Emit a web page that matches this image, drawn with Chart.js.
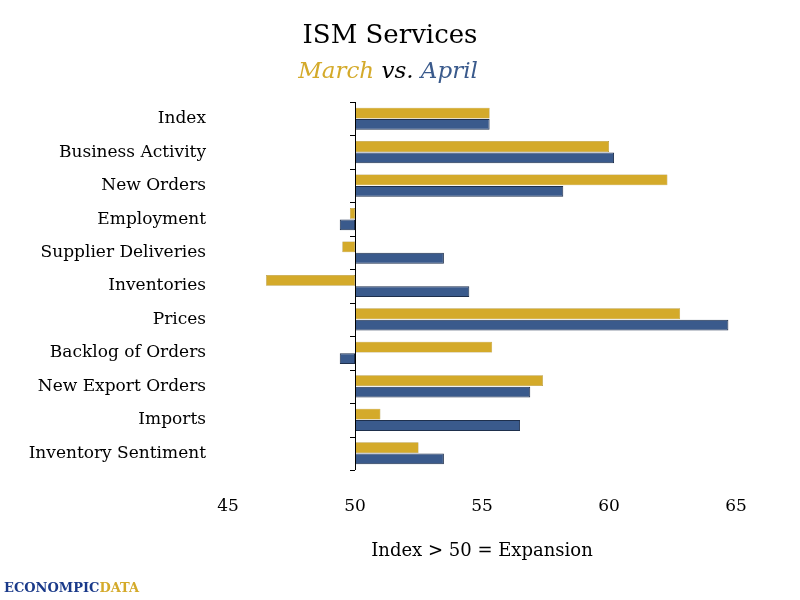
<!DOCTYPE html>
<html>
<head>
<meta charset="utf-8">
<script src="https://cdn.jsdelivr.net/npm/chart.js@4"></script>
<style>
  body { margin: 0; background: #fff; }
  #wrap { width: 800px; height: 600px; position: relative; }
</style>
</head>
<body>
<div id="wrap"><canvas id="chart" width="800" height="600"></canvas></div>
<script>
const categories = ['Index', 'Business Activity', 'New Orders', 'Employment', 'Supplier Deliveries',
    'Inventories', 'Prices', 'Backlog of Orders', 'New Export Orders', 'Imports', 'Inventory Sentiment'];
const march = [55.3, 60.0, 62.3, 49.8, 49.5, 46.5, 62.8, 55.4, 57.4, 51.0, 52.5];
const april = [55.3, 60.2, 58.2, 49.4, 53.5, 54.5, 64.7, 49.4, 56.9, 56.5, 53.5];
const xTicks = [45, 50, 55, 60, 65];
const BASE = 50;

const serif = "'Palatino Linotype', 'DejaVu Serif', 'Liberation Serif', serif";

// Vertical base line at 50 with small ticks, plus title, subtitle and logo
const decor = {
    id: 'decor',
    afterDraw(chart) {
        const ctx = chart.ctx;
        const x = chart.scales.x.getPixelForValue(BASE);
        const area = chart.chartArea;
        ctx.save();
        ctx.strokeStyle = '#000';
        ctx.lineWidth = 1;
        ctx.beginPath();
        ctx.moveTo(x + 0.5, area.top);
        ctx.lineTo(x + 0.5, area.bottom);
        const step = (area.bottom - area.top) / categories.length;
        for (let i = 0; i <= categories.length; i++) {
            const yy = Math.round(area.top + i * step) + 0.5;
            ctx.moveTo(x - 5, yy);
            ctx.lineTo(x, yy);
        }
        ctx.stroke();

        ctx.textAlign = 'center';
        ctx.textBaseline = 'alphabetic';
        ctx.fillStyle = '#000';
        ctx.font = "26px " + serif;
        ctx.fillText('ISM Services', 390, 43);

        ctx.font = "italic 23px " + serif;
        const parts = [['March', '#D4AA2A'], [' vs. ', '#000'], ['April', '#3A5A8C']];
        const total = parts.reduce((s, p) => s + ctx.measureText(p[0]).width, 0);
        let px = 388 - total / 2;
        ctx.textAlign = 'left';
        parts.forEach(p => {
            ctx.fillStyle = p[1];
            ctx.fillText(p[0], px, 78);
            px += ctx.measureText(p[0]).width;
        });

        ctx.font = "bold 13px " + serif;
        ctx.fillStyle = '#1a3a8a';
        ctx.fillText('ECONOMPIC', 4, 592);
        ctx.fillStyle = '#D4AA2A';
        ctx.fillText('DATA', 4 + ctx.measureText('ECONOMPIC').width, 592);
        ctx.restore();
    }
};

new Chart(document.getElementById('chart'), {
    type: 'bar',
    data: {
        labels: categories,
        datasets: [{
            label: 'March',
            data: march.map(v => [BASE, v]),
            backgroundColor: '#D4AA2A',
            borderColor: '#9c7d1c',
            borderWidth: 0.5,
            borderSkipped: false
        }, {
            label: 'April',
            data: april.map(v => [BASE, v]),
            backgroundColor: '#3A5A8C',
            borderColor: '#1e2f4c',
            borderWidth: 1,
            borderSkipped: false
        }]
    },
    options: {
        indexAxis: 'y',
        responsive: false,
        animation: false,
        categoryPercentage: 0.68,
        barPercentage: 0.95,
        layout: { padding: { top: 102, left: 10, right: 64, bottom: 34 } },
        plugins: {
            legend: { display: false },
            tooltip: { enabled: false }
        },
        scales: {
            x: {
                min: 45,
                max: 65,
                afterBuildTicks: axis => { axis.ticks = xTicks.map(v => ({ value: v })); },
                grid: { display: false },
                border: { display: false },
                ticks: { color: '#000', font: { family: serif, size: 17 }, padding: 18 },
                title: {
                    display: true,
                    text: 'Index > 50 = Expansion',
                    color: '#000',
                    font: { family: serif, size: 18 },
                    padding: { top: 6 }
                }
            },
            y: {
                afterFit: axis => { axis.width = 218; },
                grid: { display: false },
                border: { display: false },
                ticks: { color: '#000', font: { family: serif, size: 17 }, padding: 14 }
            }
        }
    },
    plugins: [decor]
});
</script>
</body>
</html>
